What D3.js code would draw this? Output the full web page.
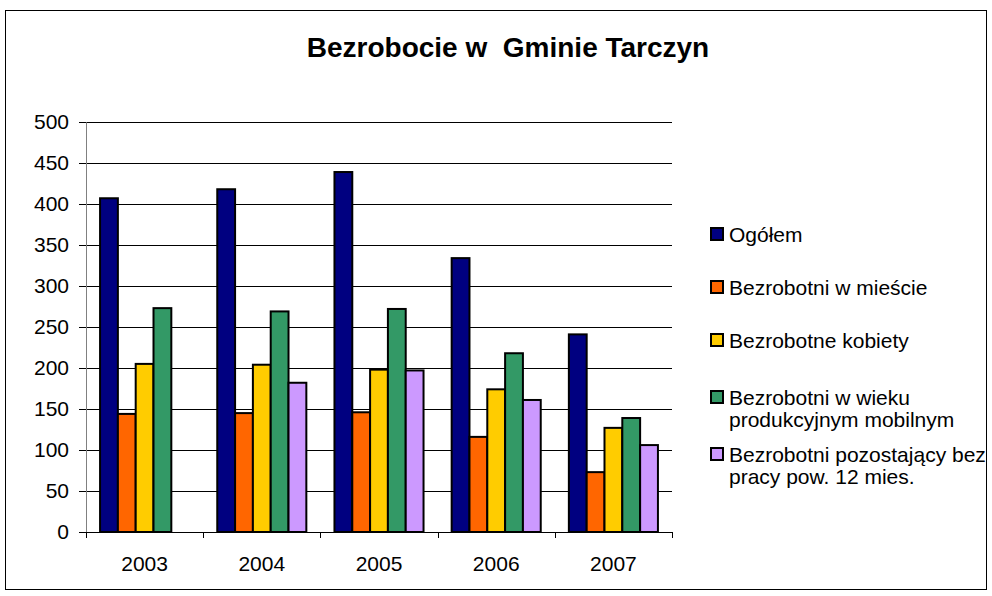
<!DOCTYPE html>
<html>
<head>
<meta charset="utf-8">
<script src="https://cdnjs.cloudflare.com/ajax/libs/d3/7.8.5/d3.min.js"></script>
<style>
  body { margin: 0; background: #fff; }
  svg text { font-family: "Liberation Sans", Arial, sans-serif; fill: #000; }
</style>
</head>
<body>
<svg class="chart" width="992" height="596"></svg>
<script>
var years = ["2003", "2004", "2005", "2006", "2007"];
var seriesNames = ["Ogółem", "Bezrobotni w mieście", "Bezrobotne kobiety",
                   "Bezrobotni w wieku produkcyjnym mobilnym",
                   "Bezrobotni pozostający bez pracy pow. 12 mies."];
var legendLines = [["Ogółem"], ["Bezrobotni w mieście"], ["Bezrobotne kobiety"],
                   ["Bezrobotni w wieku", "produkcyjnym mobilnym"],
                   ["Bezrobotni pozostający bez", "pracy pow. 12 mies."]];
var colors = ["#000080", "#ff6600", "#ffcc00", "#339966", "#cc99ff"];
var ogolem    = [407, 418, 439, 334, 241];
var miasto    = [144, 145, 146, 116, 73];
var kobiety   = [205, 204, 198, 174, 127];
var mobilni   = [273, 269, 272, 218, 139];
var dlugotrwale = [null, 182, 197, 161, 106];
var yTicks = [0, 50, 100, 150, 200, 250, 300, 350, 400, 450, 500];

var series = [ogolem, miasto, kobiety, mobilni, dlugotrwale];

var margin = {top: 122, left: 86, right: 320, bottom: 64},
    width = 992 - margin.left - margin.right,
    height = 532 - margin.top;

var svg = d3.select(".chart");

// outer frame
svg.append("rect")
    .attr("x", 5.5).attr("y", 10.5)
    .attr("width", 981).attr("height", 579)
    .attr("fill", "none").attr("stroke", "#000").attr("stroke-width", 1);

svg.append("text")
    .attr("x", 508).attr("y", 57)
    .attr("text-anchor", "middle")
    .style("font-size", "28px").style("font-weight", "bold")
    .style("white-space", "pre")
    .text("Bezrobocie w  Gminie Tarczyn");

var g = svg.append("g")
    .attr("transform", "translate(" + margin.left + "," + margin.top + ")");

var x0 = d3.scaleBand().domain(years).range([0, width]).paddingInner(0.24).paddingOuter(0.12);
var x1 = d3.scaleBand().domain(d3.range(series.length)).range([0, x0.bandwidth()]);
var y = d3.scaleLinear().domain([0, 500]).range([height, 0]);

// gridlines
g.append("g").selectAll("line")
    .data(yTicks.filter(function(d) { return d > 0; }))
  .enter().append("line")
    .attr("x1", 0).attr("x2", width)
    .attr("y1", function(d) { return Math.round(y(d)) + 0.5; })
    .attr("y2", function(d) { return Math.round(y(d)) + 0.5; })
    .attr("stroke", "#000").attr("stroke-width", 1);

// bars
var groups = g.selectAll(".year")
    .data(years)
  .enter().append("g")
    .attr("transform", function(d) { return "translate(" + x0(d) + ",0)"; });

groups.selectAll("rect")
    .data(function(d, i) {
      return series.map(function(s, k) { return {k: k, v: s[i]}; })
                   .filter(function(e) { return e.v != null; });
    })
  .enter().append("rect")
    .attr("x", function(d) { return x1(d.k); })
    .attr("width", x1.bandwidth())
    .attr("y", function(d) { return y(d.v); })
    .attr("height", function(d) { return height - y(d.v); })
    .attr("fill", function(d) { return colors[d.k]; })
    .attr("stroke", "#000").attr("stroke-width", 2);

// axes
var yAxis = g.append("g")
    .call(d3.axisLeft(y).tickValues(yTicks).tickSize(7).tickPadding(10));
yAxis.selectAll("text").style("font-size", "21px");
yAxis.select(".domain").attr("stroke", "#808080");

var xAxis = g.append("g")
    .attr("transform", "translate(0," + height + ")")
    .call(d3.axisBottom(x0).tickSize(0).tickPadding(24));
xAxis.selectAll("text").style("font-size", "21px");
xAxis.select(".domain").attr("stroke", "#000");
xAxis.selectAll(".sep")
    .data(d3.range(years.length + 1))
  .enter().append("line")
    .attr("class", "sep")
    .attr("x1", function(d) { return Math.round(d * width / years.length) + 0.5; })
    .attr("x2", function(d) { return Math.round(d * width / years.length) + 0.5; })
    .attr("y1", 0).attr("y2", 6)
    .attr("stroke", "#000");

// legend
var legendY = [242, 295, 348, 405, 462];
var legend = svg.append("g");
legendLines.forEach(function(lines, i) {
  legend.append("rect")
      .attr("x", 711).attr("y", legendY[i] - 14)
      .attr("width", 12).attr("height", 12)
      .attr("fill", colors[i]).attr("stroke", "#000").attr("stroke-width", 2);
  var t = legend.append("text")
      .attr("x", 729).attr("y", legendY[i])
      .style("font-size", "21px");
  lines.forEach(function(l, j) {
    t.append("tspan").attr("x", 729).attr("dy", j === 0 ? 0 : 22).text(l);
  });
});
</script>
</body>
</html>
